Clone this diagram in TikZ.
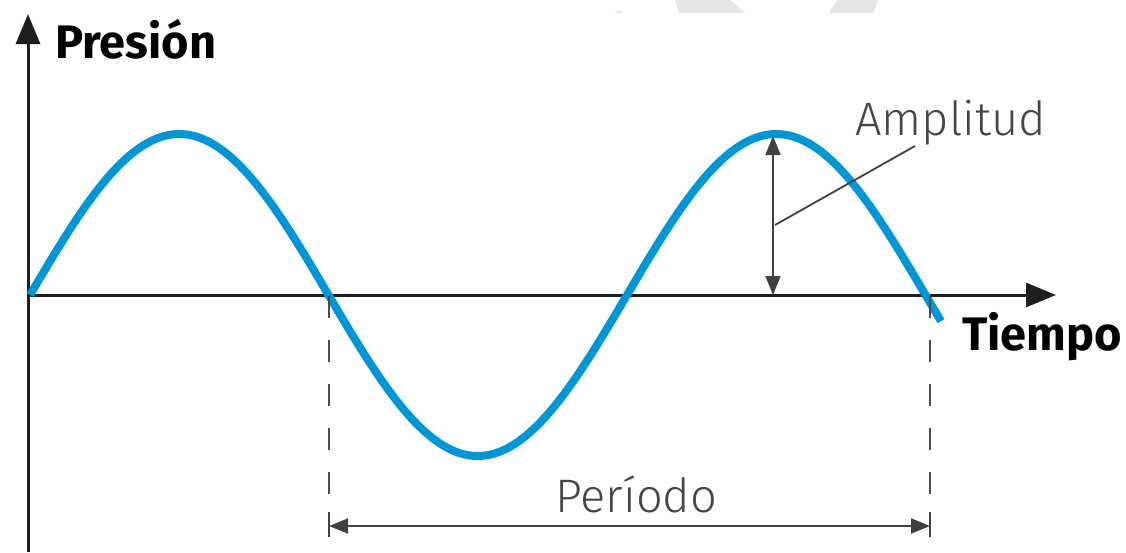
\documentclass[tikz,border=0pt]{standalone}
\usepackage{fontspec}
\usetikzlibrary{arrows.meta}
\newfontfamily\headfont{Fira Sans}[BoldFont=* Bold]
\newfontfamily\thinfont{Fira Sans Light}
\definecolor{wave}{RGB}{0,150,214}
\definecolor{axisc}{RGB}{30,30,30}
\definecolor{textg}{RGB}{70,70,70}
\definecolor{wm}{RGB}{230,230,230}
\tikzset{
  axisline/.style={draw=axisc, line width=3pt, -{Triangle[length=30pt,width=24pt]}},
  dimline/.style={draw=axisc!85, line width=1.8pt},
  dimarrow/.style={dimline, {Triangle[length=19pt,width=15pt]}-{Triangle[length=19pt,width=15pt]}},
  dashline/.style={draw=axisc!80, line width=1.8pt, dash pattern=on 22pt off 22pt},
  axislabel/.style={font=\headfont\bfseries\fontsize{47}{50}\selectfont, text=black, inner sep=0pt, anchor=base west},
  thinlabel/.style={font=\thinfont\fontsize{47}{50}\selectfont, text=textg, inner sep=0pt, anchor=base west},
}
\begin{document}
\begin{tikzpicture}[x=1pt,y=-1pt]
\useasboundingbox (0,0) rectangle (1126,552);
% watermark remnants
\fill[wm] (675,0) -- (730,0) -- (745,13) -- (679,13) -- cycle;
\fill[wm] (837,0) -- (878,0) -- (873,13) -- (829,13) -- cycle;
\fill[wm] (617,11) -- (623,11) -- (623,13) -- (615,13) -- cycle;
% coordinates
\coordinate (ybot) at (28,552);
\coordinate (ytop) at (28,14);
\coordinate (xleft) at (28,295);
\coordinate (xright) at (1056,295);
\coordinate (ampbot) at (773,295);
\coordinate (amptop) at (773,136);
\coordinate (leadA) at (775,225);
\coordinate (leadB) at (915,146);
\coordinate (d1top) at (329,296);
\coordinate (d1bot) at (329,496);
\coordinate (d2top) at (930,296);
\coordinate (d2bot) at (930,496);
\coordinate (pL) at (329,526);
\coordinate (pR) at (930,526);
% axes
\draw[axisline] (ybot) -- (ytop);
\draw[axisline] (xleft) -- (xright);
% wave
\draw[wave, line width=8pt, line join=round] plot[domain=30:941, samples=240] (\x, {295-161*sin((\x-30)/298.5*180)});
% dashed period markers
\draw[dashline] (d1top) -- (d1bot);
\draw[dashline] (d2top) -- (d2bot);
% period arrow
\draw[dimarrow] (pL) -- (pR);
\draw[dimline] ([yshift=-11pt]pL) -- ([yshift=14pt]pL);
\draw[dimline] ([yshift=-11pt]pR) -- ([yshift=14pt]pR);
% amplitude arrow
\draw[dimarrow] (ampbot) -- (amptop);
\draw[dimline] (leadA) -- (leadB);
% labels
\node[axislabel] (pres) at (55,58) {Presión};
\node[axislabel] (tiem) at (962,350) {Tiempo};
\node[thinlabel] (ampl) at (855,135) {Amplitud};
\node[thinlabel] (peri) at (555,512) {Período};
\end{tikzpicture}
\end{document}
